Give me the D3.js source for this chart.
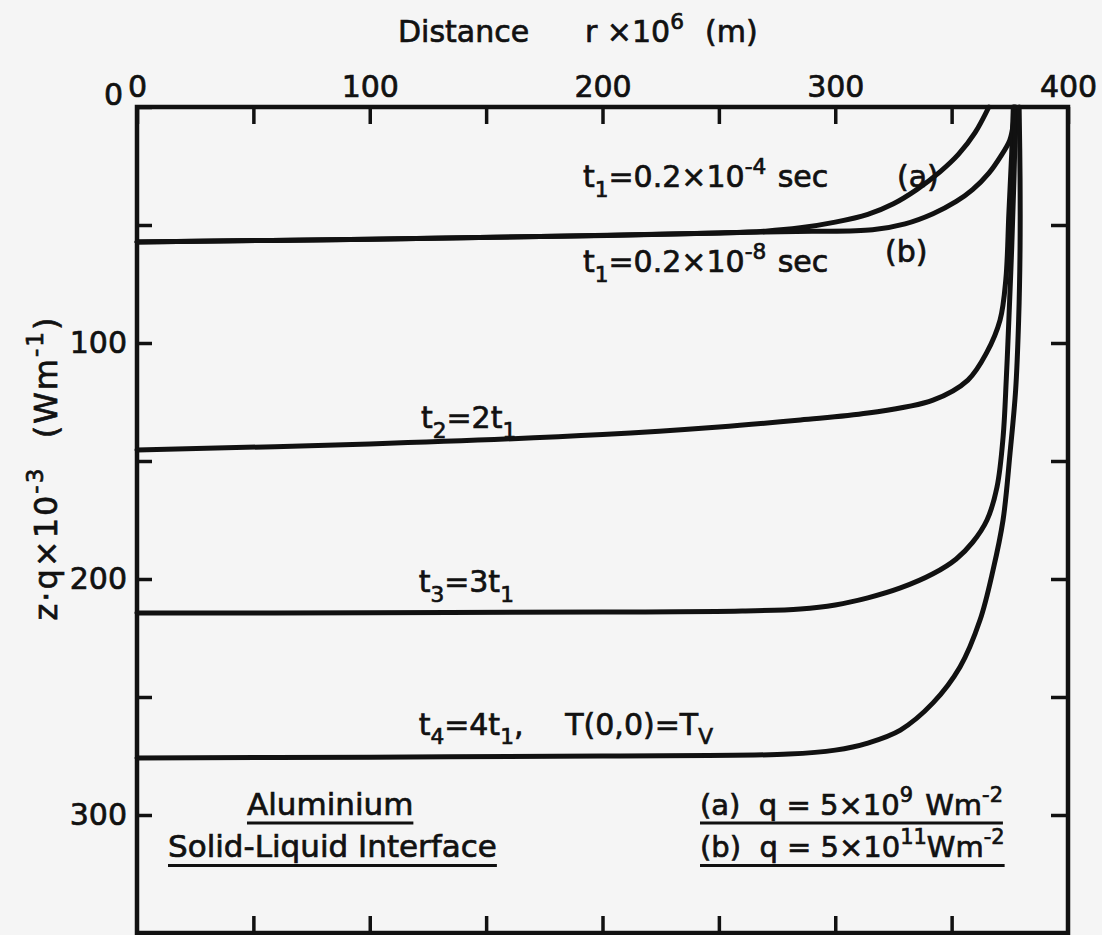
<!DOCTYPE html>
<html>
<head>
<meta charset="utf-8">
<script src="https://cdn.jsdelivr.net/npm/d3@7"></script>
<style>
  html, body { margin: 0; padding: 0; background: #f5f5f5; }
  svg { display: block; }
  text { font-family: "DejaVu Sans", sans-serif; fill: #111; stroke: #111; stroke-width: 0.7px; white-space: pre; }
</style>
</head>
<body>
<svg id="chart" width="1102" height="935"></svg>
<script>
// Interface position z (depth, ×10^-3 scaled) against radial distance r (×10^6 m)
// Each curve: [r, z] pairs
const curveA  = [[0,57.2],[100,56],[180,54.8],[250,53.4],[270,52.6],[285,51.2],[300,48.8],[314,45.5],[325,41],[335,35],[345,27.5],[353,20],[360,11],[366,0]];
const curveB  = [[0,57.2],[100,56],[180,54.8],[250,53.4],[270,53],[290,52.7],[316,52],[330,49.5],[342,45.2],[352,40],[359,35],[366,28],[371,21],[375,14],[376.5,7],[377,0]];
const curveT2 = [[0,145.3],[100,142.8],[200,138.8],[250,135.6],[285,132.6],[314,129.7],[342,124.2],[357,115.7],[365,104.2],[370.8,90.3],[373.3,73],[374.6,45],[375.8,20],[376.5,0]];
const curveT3 = [[0,214.4],[100,214.3],[200,214],[260,213.6],[285,212.7],[300,211],[314,208],[328,203.8],[342,197.8],[352,191.5],[359,184.5],[365.2,175],[369.5,161],[372.1,140],[373.5,115],[374.6,90],[375.8,60],[376.8,30],[377.5,0]];
const curveT4 = [[0,275.8],[100,275.5],[200,275],[280,274.2],[300,272.5],[314,269.5],[328,264],[342,252.5],[353.6,237.3],[362.2,217.4],[367.8,196.2],[372.1,175],[375.1,146.6],[377.5,120],[378.8,90],[379.4,60],[379.4,30],[379,0]];

const xTicks = [0,50,100,150,200,250,300,350,400];
const xTickLabels = [0,100,200,300,400];
const yTicks = [0,50,100,150,200,250,300,350];
const yTickLabels = [0,100,200,300];

const svg = d3.select("#chart");
const x = d3.scaleLinear().domain([0, 400]).range([137, 1068]);
const y = d3.scaleLinear().domain([0, 350]).range([107, 933]);

// Rich text helper: segments with optional sub/sup
function rich(g, px, py, segs, size, anchor) {
  const t = g.append("text").attr("x", px).attr("y", py)
    .attr("font-size", size).attr("text-anchor", anchor || "start");
  let shift = 0;
  segs.forEach(s => {
    const seg = typeof s === "string" ? {t: s} : s;
    let target = 0, fs = size;
    if (seg.sub) { target = size * 0.32; fs = size * 0.72; }
    if (seg.sup) { target = -size * 0.45; fs = size * 0.72; }
    t.append("tspan").attr("dy", target - shift).attr("font-size", fs)
      .attr("dx", seg.dx || 0).text(seg.t);
    shift = target;
  });
  return t;
}

// Frame
svg.append("rect")
  .attr("x", x(0)).attr("y", y(0))
  .attr("width", x(400) - x(0)).attr("height", y(350) - y(0))
  .attr("fill", "none").attr("stroke", "#111").attr("stroke-width", 4.5);

// Axes with inward ticks
const fmtX = d => xTickLabels.includes(d) ? d : "";
const fmtY = d => yTickLabels.includes(d) ? d : "";
const topAxis = d3.axisTop(x).tickValues(xTicks).tickSize(-17).tickPadding(10).tickFormat(fmtX);
const botAxis = d3.axisBottom(x).tickValues(xTicks.slice(1, -1)).tickSize(-17).tickFormat("");
const leftAxis = d3.axisLeft(y).tickValues(yTicks.slice(0, -1)).tickSize(-15).tickPadding(10).tickFormat(fmtY);
const rightAxis = d3.axisRight(y).tickValues(yTicks.slice(1, -1)).tickSize(-17).tickFormat("");

function styleAxis(g) {
  g.select(".domain").remove();
  g.selectAll(".tick line").attr("stroke", "#111").attr("stroke-width", 3.5);
  g.selectAll(".tick text").attr("fill", "#111").attr("font-size", 30)
    .attr("font-family", "DejaVu Sans, sans-serif");
}
svg.append("g").attr("transform", `translate(0,${y(0)})`).call(topAxis).call(styleAxis);
svg.append("g").attr("transform", `translate(0,${y(350)})`).call(botAxis).call(styleAxis);
svg.append("g").attr("transform", `translate(${x(0)},0)`).call(leftAxis).call(styleAxis)
  .selectAll(".tick text").filter(d => d === 0).attr("dy", "-0.1em").attr("dx", "-4");
svg.append("g").attr("transform", `translate(${x(400)},0)`).call(rightAxis).call(styleAxis);

// Axis titles
rich(svg, 398, 42, ["Distance"], 30);
rich(svg, 585, 42, ["r ×10", {t: "6", sup: true}, {t: "  (m)", dx: 2}], 30);
const yt = svg.append("g").attr("transform", `translate(57,${468}) rotate(-90)`);
rich(yt, 0, 0, ["z·q×10", {t: "-3", sup: true}, {t: "  (Wm", dx: 4}, {t: "-1", sup: true}, {t: ")"}], 32, "middle")
  .attr("letter-spacing", 2);

// Curves
const line = d3.line().x(d => x(d[0])).y(d => y(d[1])).curve(d3.curveCatmullRom.alpha(0.5));
[curveA, curveB, curveT2, curveT3, curveT4].forEach(c => {
  svg.append("path").datum(c).attr("d", line)
    .attr("fill", "none").attr("stroke", "#111").attr("stroke-width", 5)
    .attr("stroke-linejoin", "round").attr("stroke-linecap", "round");
});

// Curve annotations
const fs = 30;
rich(svg, x(191.6), y(34), ["t", {t: "1", sub: true}, "=0.2×10", {t: "-4", sup: true}, {t: " sec", dx: 2}], fs);
rich(svg, x(326.5), y(34), ["(a)"], fs);
rich(svg, x(191.6), y(70), ["t", {t: "1", sub: true}, "=0.2×10", {t: "-8", sup: true}, {t: " sec", dx: 2}], fs);
rich(svg, x(321.4), y(65.5), ["(b)"], fs);
rich(svg, x(122), y(136), ["t", {t: "2", sub: true}, "=2t", {t: "1", sub: true}], fs);
rich(svg, x(121), y(205.5), ["t", {t: "3", sub: true}, "=3t", {t: "1", sub: true}], fs);
rich(svg, x(121), y(266), ["t", {t: "4", sub: true}, "=4t", {t: "1", sub: true}, ","], fs);
rich(svg, x(184), y(266), ["T(0,0)=T", {t: "V", sub: true}], fs);

// Legend block
function underlined(px, py, segs, size, anchor) {
  const t = rich(svg, px, py, segs, size, anchor);
  const b = t.node().getBBox();
  svg.append("line").attr("x1", b.x).attr("x2", b.x + b.width)
    .attr("y1", py + 8).attr("y2", py + 8)
    .attr("stroke", "#111").attr("stroke-width", 3);
}
underlined(x(83), y(300), ["Aluminium"], 31, "middle");
underlined(168, y(318), ["Solid-Liquid Interface"], 31);
underlined(700, y(300), ["(a)  q = 5×10", {t: "9", sup: true}, {t: " Wm", dx: 3}, {t: "-2", sup: true}], 29);
underlined(700, y(318), ["(b)  q = 5×10", {t: "11", sup: true}, "Wm", {t: "-2", sup: true}], 29);
</script>
</body>
</html>
